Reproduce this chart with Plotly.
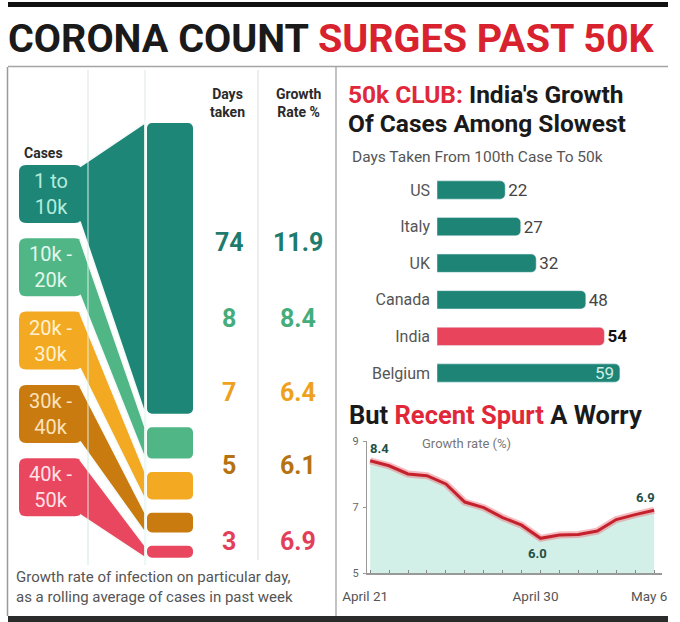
import plotly.graph_objects as go

W, H = 680, 622

# ---------------- data ----------------
case_bands = ["1 to<br>10k", "10k -<br>20k", "20k -<br>30k", "30k -<br>40k", "40k -<br>50k"]
days_taken = [74, 8, 7, 5, 3]
growth_rate = [11.9, 8.4, 6.4, 6.1, 6.9]

countries = ["US", "Italy", "UK", "Canada", "India", "Belgium"]
days_to_50k = [22, 27, 32, 48, 54, 59]

dates = ["2020-04-21", "2020-04-22", "2020-04-23", "2020-04-24", "2020-04-25", "2020-04-26",
         "2020-04-27", "2020-04-28", "2020-04-29", "2020-04-30", "2020-05-01", "2020-05-02",
         "2020-05-03", "2020-05-04", "2020-05-05", "2020-05-06"]
growth_daily = [8.4, 8.25, 8.0, 7.95, 7.7, 7.15, 6.98, 6.68, 6.45, 6.05, 6.15, 6.17,
                6.27, 6.62, 6.77, 6.9]
date_ticktext = {"2020-04-21": "April 21", "2020-04-30": "April 30", "2020-05-06": "May 6"}
line_labels = {"2020-04-21": "8.4", "2020-04-30": "6.0", "2020-05-06": "6.9"}

# ---------------- style ----------------
FONT = "Roboto, Liberation Sans, sans-serif"
band_colors = ["#1d8677", "#50b686", "#f3aa22", "#c97b10", "#e9475f"]
band_text = ["#b4ecdc", "#e3f7ec", "#fff1cf", "#fbe2bd", "#ffe1e6"]
num_colors = ["#1e7b6d", "#45ad7b", "#eda11c", "#b5720f", "#e23f5a"]
TEAL = "#1e8576"
RED = "#e8455c"


def px(x):
    return x / W


def py(y):
    return 1 - y / H


# left diagram scale: y axis in "days" units
BLOCK_TOP_PX = 123
PX_PER_DAY = 3.93
GAP_DAYS = 3.4


def u(ypx):
    return (ypx - BLOCK_TOP_PX) / PX_PER_DAY


fig = go.Figure()

# ---- left: flows + blocks ----
tops = []
acc = 0.0
for d in days_taken:
    tops.append(acc)
    acc += d + GAP_DAYS

BOX_X0, BOX_X1 = 19, 82
BOX_H = 58
box_tops = [165 + 73.3 * i for i in range(len(days_taken))]

for i in reversed(range(len(days_taken))):
    bt, bb = u(box_tops[i]), u(box_tops[i] + BOX_H)
    fig.add_trace(go.Scatter(
        x=[BOX_X1 - 2, 145, 145, BOX_X1 - 2], y=[bt + 0.4, tops[i], tops[i] + days_taken[i], bb - 0.4],
        fill="toself", fillcolor=band_colors[i], mode="lines",
        line=dict(color="#f4fbf8", width=1.5), hoverinfo="skip", showlegend=False,
        xaxis="x", yaxis="y"))

fig.add_trace(go.Bar(
    x=[170] * len(days_taken), y=days_taken, base=tops, width=46,
    marker=dict(color=band_colors, cornerradius=5, line=dict(width=0)),
    hoverinfo="skip", showlegend=False, xaxis="x", yaxis="y"))

shapes = []


def rrect(x0, y0, x1, y1, r):
    # rounded rect in x-px / y-days units
    ry = r / PX_PER_DAY
    Y0, Y1 = u(y0), u(y1)
    return (f"M {x0+r},{Y0} L {x1-r},{Y0} Q {x1},{Y0} {x1},{Y0+ry} L {x1},{Y1-ry} "
            f"Q {x1},{Y1} {x1-r},{Y1} L {x0+r},{Y1} Q {x0},{Y1} {x0},{Y1-ry} "
            f"L {x0},{Y0+ry} Q {x0},{Y0} {x0+r},{Y0} Z")


annotations = []


def note(x, y, text, size, color, xanchor="center", **kw):
    d = dict(xref="paper", yref="paper", x=px(x), y=py(y), text=text, showarrow=False,
             xanchor=xanchor, yanchor="middle", font=dict(family=FONT, size=size, color=color))
    d.update(kw)
    annotations.append(d)


for i, lab in enumerate(case_bands):
    shapes.append(dict(type="path", xref="x", yref="y",
                       path=rrect(BOX_X0, box_tops[i], BOX_X1, box_tops[i] + BOX_H, 7),
                       fillcolor=band_colors[i], line=dict(width=0), layer="below"))
    annotations.append(dict(xref="x", yref="y", x=(BOX_X0 + BOX_X1) / 2,
                            y=u(box_tops[i] + BOX_H / 2), text=lab, showarrow=False,
                            font=dict(family=FONT, size=20, color=band_text[i]),
                            xanchor="center", yanchor="middle", borderpad=0))

# numbers columns
row_y = [242, 318, 392, 466, 541]
for i in range(len(days_taken)):
    note(229, row_y[i], f"<b>{days_taken[i]}</b>", 25, num_colors[i])
    note(298, row_y[i], f"<b>{growth_rate[i]}</b>", 25, num_colors[i])

note(228, 103, "<b>Days<br>taken</b>", 14, "#2a2a2a")
note(298, 103, "<b>Growth<br>Rate %</b>", 14, "#2a2a2a")
note(43, 153, "<b>Cases</b>", 14, "#2a2a2a", borderpad=0)
note(14, 587, "Growth rate of infection on particular day,<br>as a rolling average of cases in past week",
     15, "#555", xanchor="left", align="left")
note(6, 38, "<b>CORONA COUNT <span style='color:#d8232f'>SURGES PAST 50K</span></b>", 39.5,
     "#1a1a1a", xanchor="left")
note(347, 94.5, "<b><span style='color:#e0283a'>50k CLUB:</span> India's Growth</b>", 24.5,
     "#1a1a1a", xanchor="left", borderpad=0)
note(347, 123, "<b>Of Cases Among Slowest</b>", 24.5, "#1a1a1a", xanchor="left", borderpad=0)
note(350, 157, "Days Taken From 100th Case To 50k", 15.5, "#555", xanchor="left")
note(347, 415, "<b>But <span style='color:#e0283a'>Recent Spurt</span> A Worry</b>", 25.5,
     "#1a1a1a", xanchor="left")
note(420, 443, "Growth rate (%)", 13, "#777", xanchor="left")

# ---- right: bar chart ----
bar_colors = [RED if c == "India" else TEAL for c in countries]
vmax = max(days_to_50k)
bar_text = [("" if v == vmax else (f"<b>{v}</b>" if c == "India" else str(v)))
            for c, v in zip(countries, days_to_50k)]
text_col = ["#111" if c == "India" else "#444" for c in countries]
fig.add_trace(go.Bar(
    y=countries, x=days_to_50k, orientation="h", width=0.5,
    marker=dict(color=bar_colors, cornerradius=5),
    text=bar_text, textposition="outside", textangle=0,
    textfont=dict(family=FONT, size=17, color=text_col),
    constraintext="none", cliponaxis=False,
    hoverinfo="skip", showlegend=False, xaxis="x2", yaxis="y2"))
# longest bar keeps its label inside
for c, v in zip(countries, days_to_50k):
    if v == vmax:
        annotations.append(dict(xref="x2", yref="y2", x=v, y=c, text=str(v), showarrow=False,
                                xanchor="right", yanchor="middle", xshift=-4,
                                font=dict(family=FONT, size=17, color="#cdeee5")))

# ---- right: line chart ----
fig.add_trace(go.Scatter(
    x=dates, y=growth_daily, mode="lines", fill="tozeroy", fillcolor="#d2f0e7",
    line=dict(color="rgba(236,120,130,0.5)", width=7), hoverinfo="skip",
    showlegend=False, xaxis="x3", yaxis="y3"))
fig.add_trace(go.Scatter(
    x=dates, y=growth_daily, mode="lines",
    line=dict(color="#c5212c", width=3), hoverinfo="skip",
    showlegend=False, xaxis="x3", yaxis="y3"))

shifts = {"2020-04-21": (9, 12), "2020-04-30": (-3, -15), "2020-05-06": (-9, 13)}
for d, lab in line_labels.items():
    idx = dates.index(d)
    annotations.append(dict(xref="x3", yref="y3", x=d, y=growth_daily[idx], text=f"<b>{lab}</b>",
                            showarrow=False, xshift=shifts[d][0], yshift=shifts[d][1],
                            xanchor="center", yanchor="middle",
                            font=dict(family=FONT, size=13, color="#1f4f48")))

# ---- frame lines ----
line_gray = "#9a9a9a"
shapes += [
    dict(type="rect", xref="paper", yref="paper", x0=px(8), x1=px(668), y0=py(7), y1=py(2),
         fillcolor="#111", line=dict(width=0)),
    dict(type="line", xref="paper", yref="paper", x0=px(8), x1=px(668), y0=py(66.5), y1=py(66.5),
         line=dict(color="#a5a5a5", width=1.5)),
    dict(type="rect", xref="paper", yref="paper", x0=px(8), x1=px(668), y0=py(622), y1=py(616),
         fillcolor="#2b2b2b", line=dict(width=0)),
    dict(type="line", xref="paper", yref="paper", x0=px(7.5), x1=px(7.5), y0=py(67), y1=py(616),
         line=dict(color=line_gray, width=1.5)),
    dict(type="line", xref="paper", yref="paper", x0=px(336), x1=px(336), y0=py(67), y1=py(616),
         line=dict(color=line_gray, width=1.2)),
    dict(type="line", xref="paper", yref="paper", x0=px(258), x1=px(258), y0=py(70), y1=py(560),
         line=dict(color="#dcdcdc", width=1)),
    dict(type="line", xref="paper", yref="paper", x0=px(88), x1=px(88), y0=py(70), y1=py(565),
         line=dict(color="#dde6e4", width=1), layer="below"),
    dict(type="line", xref="paper", yref="paper", x0=px(145), x1=px(145), y0=py(70), y1=py(565),
         line=dict(color="#dde6e4", width=1), layer="below"),
    dict(type="line", xref="paper", yref="paper", x0=px(88), x1=px(88), y0=py(150), y1=py(565),
         line=dict(color="rgba(225,245,238,0.8)", width=1.2), layer="above"),
    dict(type="line", xref="paper", yref="paper", x0=px(145.5), x1=px(145.5), y0=py(120), y1=py(565),
         line=dict(color="rgba(235,250,245,0.95)", width=2), layer="above"),
]

tickvals = dates
ticktext = [date_ticktext.get(d, "") for d in dates]

fig.update_layout(
    width=W, height=H, margin=dict(l=0, r=0, t=0, b=0, pad=0, autoexpand=False),
    paper_bgcolor="white", plot_bgcolor="rgba(0,0,0,0)",
    showlegend=False, barmode="overlay",
    shapes=shapes, annotations=annotations,
    xaxis=dict(domain=[0, 1], range=[0, W], visible=False, fixedrange=True, automargin=False),
    yaxis=dict(domain=[0, 1], range=[u(H), u(0)], visible=False, fixedrange=True, automargin=False),
    xaxis2=dict(domain=[px(437), px(437 + 70 * 3.1)], range=[0, 70], visible=False,
                anchor="y2", automargin=False),
    yaxis2=dict(domain=[py(391.3), py(171.7)], autorange="reversed", anchor="x2",
                showline=False, showgrid=False, zeroline=False, ticks="",
                ticklabelstandoff=6, automargin=False,
                tickfont=dict(family=FONT, size=16, color="#555")),
    xaxis3=dict(domain=[px(367), px(662)], anchor="y3",
                range=["2020-04-20 20:00", "2020-05-06 10:00"],
                tickvals=tickvals, ticktext=ticktext, ticks="inside", ticklen=3,
                tickcolor="#888", showline=True, linecolor="#999", linewidth=1.5,
                showgrid=False, zeroline=False, ticklabelstandoff=10, ticklabelshift=-5,
                automargin=False,
                tickfont=dict(family=FONT, size=13.5, color="#555")),
    yaxis3=dict(domain=[py(573), py(441)], anchor="x3", range=[5, 9],
                tickvals=[5, 7, 9], ticks="outside", ticklen=3, tickcolor="#999",
                showline=True, linecolor="#999", linewidth=1.2, showgrid=False,
                zeroline=False, ticklabelstandoff=2, automargin=False,
                tickfont=dict(family=FONT, size=11, color="#666")),
)

fig.write_html("out.html", config={"displayModeBar": False},
               post_script="document.body.style.margin='0';document.body.style.overflow='hidden';")
